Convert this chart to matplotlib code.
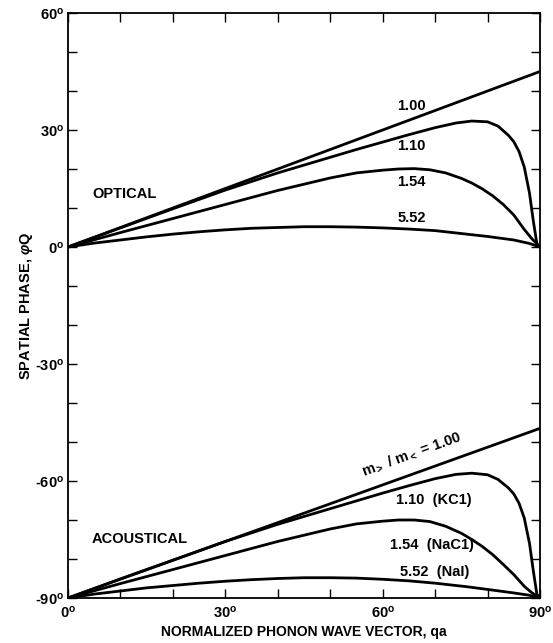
import matplotlib
matplotlib.use("Agg")
import matplotlib.pyplot as plt
from matplotlib.ticker import MultipleLocator

plt.rcParams['font.family'] = ['Liberation Sans', 'DejaVu Sans']
plt.rcParams['mathtext.fontset'] = 'custom'
plt.rcParams['mathtext.rm'] = 'Liberation Sans:bold'
plt.rcParams['mathtext.bf'] = 'Liberation Sans:bold'
plt.rcParams['mathtext.it'] = 'Liberation Sans:italic:bold'

# ---- data ----
x_100 = [0, 90]
opt_100 = [0, 45.0]
aco_100 = [-90, -46.5]

x_110 = [0, 10, 20, 30, 40, 50, 55, 60, 65, 70, 74, 77, 80, 82, 84, 85, 86, 87, 88, 88.7, 89.4, 90]
opt_110 = [0, 4.9, 9.8, 14.6, 19.0, 23.0, 25.0, 26.9, 28.8, 30.6, 31.8, 32.3, 32.1, 31.0, 28.6, 27.0,
           24.5, 20.5, 13.8, 6.9, 0.9, 0]
aco_110 = [-90, -85.1, -80.3, -75.5, -71.1, -67.1, -65.1, -63.1, -61.2, -59.4, -58.3, -58.0, -58.4,
           -59.6, -61.8, -63.3, -65.7, -69.5, -76.0, -82.8, -89.0, -90]

x_154 = [0, 10, 20, 30, 40, 50, 55, 60, 63, 66, 69, 72, 75, 77, 79, 81, 83, 85, 87, 88.4, 90]
opt_154 = [0, 3.7, 7.3, 10.9, 14.5, 17.7, 19.0, 19.7, 20.0, 20.1, 19.8, 19.0, 17.6, 16.4, 14.9, 13.1,
           10.9, 8.2, 4.5, 2.2, 0]
aco_154 = [-90, -86.3, -82.7, -79.1, -75.5, -72.3, -71.0, -70.3, -70.0, -70.0, -70.4, -71.6, -73.4,
           -75.0, -76.8, -78.9, -81.4, -84.0, -87.0, -88.6, -90]

x_552 = [0, 5, 10, 15, 20, 25, 30, 35, 40, 45, 50, 55, 60, 65, 70, 76, 80, 85, 88, 90]
opt_552 = [0, 1.0, 1.8, 2.6, 3.3, 3.9, 4.4, 4.8, 5.0, 5.2, 5.2, 5.1, 4.9, 4.6, 4.2, 3.3, 2.7, 1.8, 0.9, 0]
aco_552 = [-90, -89.0, -88.2, -87.4, -86.8, -86.2, -85.7, -85.3, -85.0, -84.8, -84.8, -84.9, -85.2,
           -85.6, -86.2, -87.1, -87.8, -88.7, -89.3, -90]

x_major = [0, 30, 60, 90]
y_major = [-90, -60, -30, 0, 30, 60]
deg = r'$^{\mathrm{o}}$'
x_ticklabels = [f'{v}' + deg for v in x_major]
y_ticklabels = [f'{v}' + deg for v in y_major]

# ---- figure ----
fig = plt.figure(figsize=(5.53, 6.43), dpi=100)
ax = fig.add_axes([68/553, 45/643, (540-68)/553, (598-13)/643])

lw = 2.0
for xs, ys in [(x_100, opt_100), (x_110, opt_110), (x_154, opt_154), (x_552, opt_552),
               (x_100, aco_100), (x_110, aco_110), (x_154, aco_154), (x_552, aco_552)]:
    ax.plot(xs, ys, color='black', lw=lw, solid_capstyle='round', solid_joinstyle='round')

ax.set_xlim(0, 90)
ax.set_ylim(-90, 60)
ax.set_xticks(x_major)
ax.set_xticklabels(x_ticklabels)
ax.set_yticks(y_major)
ax.set_yticklabels(y_ticklabels)
ax.xaxis.set_minor_locator(MultipleLocator(10))
ax.yaxis.set_minor_locator(MultipleLocator(10))
ax.tick_params(which='both', direction='in', top=True, right=True, length=6.5, width=1.0)
ax.tick_params(axis='x', which='major', pad=5, labelsize=10.5)
ax.tick_params(axis='y', which='major', pad=3, labelsize=10.5)
for lab in ax.get_xticklabels() + ax.get_yticklabels():
    lab.set_fontweight('bold')
for s in ax.spines.values():
    s.set_linewidth(1.3)

ax.set_xlabel('NORMALIZED PHONON WAVE VECTOR, qa', fontsize=10, fontweight='bold', labelpad=3)
ax.set_ylabel(r'SPATIAL PHASE, $\varphi$Q', fontsize=10.5, fontweight='bold', labelpad=0)

fs = 10.5
tk = dict(fontsize=fs, fontweight='bold', ha='center', va='center')
ax.text(4.6, 13.6, 'OPTICAL', fontsize=fs, fontweight='bold', ha='left', va='center')
ax.text(4.6, -74.9, 'ACOUSTICAL', fontsize=fs, fontweight='bold', ha='left', va='center')
ax.text(65.5, 36.2, '1.00', **tk)
ax.text(65.5, 25.8, '1.10', **tk)
ax.text(65.5, 16.7, '1.54', **tk)
ax.text(65.5, 7.4, '5.52', **tk)
ax.text(69.7, -64.9, '1.10  (KC1)', **tk)
ax.text(69.3, -76.4, '1.54  (NaC1)', **tk)
ax.text(70.0, -83.3, '5.52  (NaI)', **tk)
ax.text(65.6, -53.3, r'm$_{>}$ / m$_{<}$ = 1.00', fontsize=fs, fontweight='bold',
        ha='center', va='center', rotation=20, rotation_mode='anchor')

fig.savefig('out.png', dpi=100)
